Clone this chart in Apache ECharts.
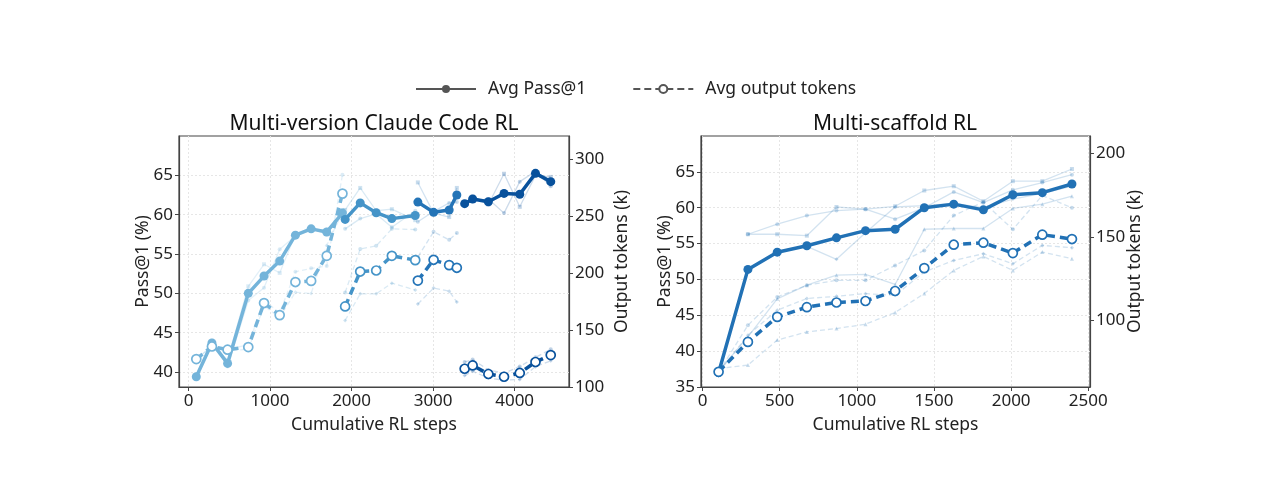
<!DOCTYPE html>
<html>
<head>
<meta charset="utf-8">
<script src="https://cdn.jsdelivr.net/npm/echarts@6/dist/echarts.min.js"></script>
<style>
  html, body { margin: 0; padding: 0; background: #fff; }
  #chart { width: 1287px; height: 489px; }
</style>
</head>
<body>
<div id="chart"></div>
<script>
// ---- left panel: multi-version Claude Code RL, four consecutive stages ----
const stepsA = [95, 287, 479, 733, 926, 1118, 1311, 1504, 1695, 1888];
const passA  = [39.4, 43.7, 41.1, 50.0, 52.2, 54.1, 57.4, 58.2, 57.8, 60.2];
const tokA   = [124.5, 135.5, 132.7, 135.0, 173.6, 163.0, 192.0, 193.0, 215.0, 269.5];
const passARuns = [[39.5, 43.4, 41.5, 50.9, 53.7, 52.6, 57.5, 58.3, 57.5, 60.6],
                   [39.3, 44.0, 40.7, 49.1, 50.7, 55.6, 57.3, 58.1, 58.1, 59.8]];
const tokARuns  = [[124, 136, 133, 137, 176, 165, 201, 204, 206, 286],
                   [125, 135, 132, 133, 171, 161, 183, 182, 224, 253]];

const stepsB = [1921, 2106, 2302, 2494, 2781];
const passB  = [59.4, 61.5, 60.25, 59.5, 59.9];
const tokB   = [170.6, 201.2, 202.1, 215.0, 211.2];
const passBRuns = [[60.6, 63.4, 60.5, 60.7, 59.3], [58.2, 59.5, 60.1, 58.4, 60.5]];
const tokBRuns  = [[182.8, 221.0, 223.7, 238.6, 238.0], [158.3, 181.7, 181.7, 191.0, 185.0]];

const stepsC = [2813, 3006, 3197, 3291];
const passC  = [61.6, 60.3, 60.6, 62.5];
const tokC   = [193.3, 211.5, 206.8, 204.5];
const passCRuns = [[64.1, 60.2, 59.7, 63.4], [59.1, 60.4, 61.5, 61.6]];
const tokCRuns  = [[214, 236, 229, 235], [172.7, 186.7, 184, 174.4]];

const stepsD = [3387, 3485, 3678, 3870, 4063, 4256, 4443];
const passD  = [61.4, 62.0, 61.65, 62.7, 62.6, 65.25, 64.2];
const tokD   = [116.0, 118.9, 111.4, 109.0, 112.3, 121.9, 128.0];
const passDRuns = [[61.2, 62.3, 61.3, 65.2, 61.0, 65.0, 64.8], [61.6, 61.7, 62.0, 60.2, 64.2, 65.5, 63.6]];
const tokDRuns  = [[122, 124, 115, 112, 118, 126, 133], [110, 113.8, 107.8, 106, 106.6, 117.8, 123]];

// ---- right panel: multi-scaffold RL ----
const stepsR = [104, 294, 484, 676, 868, 1056, 1248, 1437, 1628, 1820, 2011, 2202, 2394];
const passR  = [37.0, 51.4, 53.8, 54.7, 55.8, 56.8, 57.0, 60.0, 60.5, 59.7, 61.8, 62.1, 63.3];
const tokR   = [69.3, 87.2, 102.2, 108.0, 110.8, 111.7, 117.7, 131.4, 145.4, 146.6, 140.4, 151.4, 148.8];
const passRRuns = [
  [null, 56.3, 56.3, 56.1, 60.1, 59.8, 60.2, 62.4, 63.0, 60.9, 63.7, 63.7, 65.4],
  [null, 56.3, 57.7, 58.9, 59.6, 59.8, 58.4, 60.0, 62.2, 60.7, 62.5, 63.5, 64.6],
  [37.0, 51.3, 53.8, 54.6, 52.8, 56.5, 60.1, 60.3, 60.6, 60.0, 61.2, 62.0, 63.0],
  [37.2, 42.0, 47.3, 49.2, 50.6, 50.7, 49.3, 57.0, 57.1, 57.1, 59.9, 60.5, 61.6]
];
const tokRRuns = [
  [69.0, 97.2, 114.1, 121.1, 124.1, 124.1, 133.0, 142.0, 162.9, 170.9, 154.6, 174.9, 167.5],
  [69.0, 91.2, 106.2, 113.2, 114.5, 116.1, 115.1, 129.1, 136.0, 140.0, 134.0, 145.0, 143.6],
  [71.3, 73.3, 88.3, 93.2, 95.2, 97.8, 104.8, 116.2, 130.0, 138.4, 130.0, 141.0, 137.0]
];

// tick labels
const leftXTicks = [0, 1000, 2000, 3000, 4000];
const leftPassTicks = [40, 45, 50, 55, 60, 65];
const leftTokTicks = [100, 150, 200, 250, 300];
const rightXTicks = [0, 500, 1000, 1500, 2000, 2500];
const rightPassTicks = [35, 40, 45, 50, 55, 60, 65];
const rightTokTicks = [100, 150, 200];

const FONT = 'Noto Sans';
const colA = '#74b4da', colB = '#4594c8', colC = '#2474b7', colD = '#08519c', colR = '#2171b5';
const faintSymbols = ['rect', 'circle', 'diamond', 'triangle'];

function zip(xs, ys) {
  return ys.map((v, i) => [xs[i], v]).filter(p => p[1] != null);
}

function mainPass(xs, ys, color, xi, yi) {
  return {
    type: 'line', xAxisIndex: xi, yAxisIndex: yi, data: zip(xs, ys), z: 5,
    symbol: 'circle', symbolSize: 9,
    lineStyle: { color: color, width: 3.5 }, itemStyle: { color: color },
    silent: true, animation: false
  };
}

function mainTok(xs, ys, color, xi, yi) {
  return {
    type: 'line', xAxisIndex: xi, yAxisIndex: yi, data: zip(xs, ys), z: 5,
    symbol: 'circle', symbolSize: 9,
    lineStyle: { color: color, width: 3.5, type: [8, 5] },
    itemStyle: { color: '#fff', borderColor: color, borderWidth: 1.7 },
    silent: true, animation: false
  };
}

function faint(xs, runs, color, xi, yi, dashed) {
  return runs.map((r, k) => ({
    type: 'line', xAxisIndex: xi, yAxisIndex: yi, data: zip(xs, r), z: 2,
    symbol: faintSymbols[(k + (dashed ? 1 : 0)) % faintSymbols.length], symbolSize: 4,
    lineStyle: { color: color, width: 1.3, opacity: 0.2, type: dashed ? [5, 3] : 'solid' },
    itemStyle: { color: color, opacity: 0.25 },
    silent: true, animation: false
  }));
}

const series = [];
[[stepsA, passA, tokA, passARuns, tokARuns, colA],
 [stepsB, passB, tokB, passBRuns, tokBRuns, colB],
 [stepsC, passC, tokC, passCRuns, tokCRuns, colC],
 [stepsD, passD, tokD, passDRuns, tokDRuns, colD]].forEach(s => {
  series.push(...faint(s[0], s[3], s[5], 0, 0, false));
  series.push(...faint(s[0], s[4], s[5], 0, 1, true));
});
series.push(...faint(stepsR, passRRuns, colR, 1, 2, false));
series.push(...faint(stepsR, tokRRuns, colR, 1, 3, true));
[[stepsA, passA, tokA, colA], [stepsB, passB, tokB, colB],
 [stepsC, passC, tokC, colC], [stepsD, passD, tokD, colD]].forEach(s => {
  series.push(mainPass(s[0], s[1], s[3], 0, 0));
  series.push(mainTok(s[0], s[2], s[3], 0, 1));
});
series.push(mainPass(stepsR, passR, colR, 1, 2));
series.push(mainTok(stepsR, tokR, colR, 1, 3));

// legend-only series
series.push({
  name: 'Avg Pass@1', type: 'line', xAxisIndex: 0, yAxisIndex: 0, data: [],
  symbol: 'circle', symbolSize: 5,
  lineStyle: { color: '#555', width: 3 }, itemStyle: { color: '#555' }
});
series.push({
  name: 'Avg output tokens', type: 'line', xAxisIndex: 0, yAxisIndex: 0, data: [],
  symbol: 'circle', symbolSize: 5,
  lineStyle: { color: '#555', width: 2.4, type: [7, 4] },
  itemStyle: { color: '#fff', borderColor: '#555', borderWidth: 1.2 }
});

const labelStyle = { color: '#222', fontSize: 17, fontFamily: FONT, formatter: v => String(v) };
const nameStyle = { color: '#222', fontSize: 17.5, fontFamily: FONT };
const gridLine = { show: true, lineStyle: { color: '#e6e6e6', type: [2, 2], width: 1 } };

function xAxis(gi, min, max, ticks) {
  return {
    gridIndex: gi, type: 'value', min: min, max: max,
    name: 'Cumulative RL steps', nameLocation: 'middle', nameGap: 29, nameTextStyle: nameStyle,
    axisLine: { show: true, onZero: false, lineStyle: { color: '#444', width: 1.2 } },
    axisTick: { show: true, length: 4, customValues: ticks, lineStyle: { color: '#444' } },
    axisLabel: Object.assign({ customValues: ticks, margin: 6 }, labelStyle),
    splitLine: gridLine
  };
}

function yAxis(gi, pos, min, max, ticks, name, gap, split) {
  return {
    gridIndex: gi, type: 'value', position: pos, min: min, max: max,
    name: name, nameLocation: 'middle', nameGap: gap, nameRotate: 90, nameMoveOverlap: false,
    nameTextStyle: nameStyle,
    axisLine: { show: true, onZero: false, lineStyle: { color: '#444', width: 1.2 } },
    axisTick: { show: true, length: 4, customValues: ticks, lineStyle: { color: '#444' } },
    axisLabel: Object.assign({ customValues: ticks, margin: 6 }, labelStyle),
    splitLine: split ? gridLine : { show: false }
  };
}

const chart = echarts.init(document.getElementById('chart'), null, { renderer: 'canvas' });
chart.setOption({
  backgroundColor: '#fff',
  animation: false,
  legend: {
    data: ['Avg Pass@1', 'Avg output tokens'],
    top: 75, left: 410, itemWidth: 60, itemHeight: 10, itemGap: 46,
    textStyle: { color: '#222', fontSize: 17.5, fontFamily: FONT, padding: [0, 0, 0, 7] }
  },
  graphic: [
    { type: 'text', x: 374, y: 124, style: { text: 'Multi-version Claude Code RL', align: 'center', verticalAlign: 'middle', fontSize: 21, fontFamily: FONT, fill: '#111' } },
    { type: 'text', x: 895, y: 124, style: { text: 'Multi-scaffold RL', align: 'center', verticalAlign: 'middle', fontSize: 21, fontFamily: FONT, fill: '#111' } }
  ],
  grid: [
    { left: 179, top: 136, width: 390, height: 251, show: true, borderColor: '#444', borderWidth: 1.2, backgroundColor: 'transparent' },
    { left: 701, top: 136, width: 389, height: 251, show: true, borderColor: '#444', borderWidth: 1.2, backgroundColor: 'transparent' }
  ],
  xAxis: [
    xAxis(0, -117, 4667, leftXTicks),
    xAxis(1, -10, 2511, rightXTicks)
  ],
  yAxis: [
    yAxis(0, 'left', 38.1, 70, leftPassTicks, 'Pass@1 (%)', 27, true),
    yAxis(0, 'right', 100, 320, leftTokTicks, 'Output tokens (k)', 44, false),
    yAxis(1, 'left', 35, 70, rightPassTicks, 'Pass@1 (%)', 27, true),
    yAxis(1, 'right', 60.2, 210.5, rightTokTicks, 'Output tokens (k)', 36, false)
  ],
  series: series
});
</script>
</body>
</html>
